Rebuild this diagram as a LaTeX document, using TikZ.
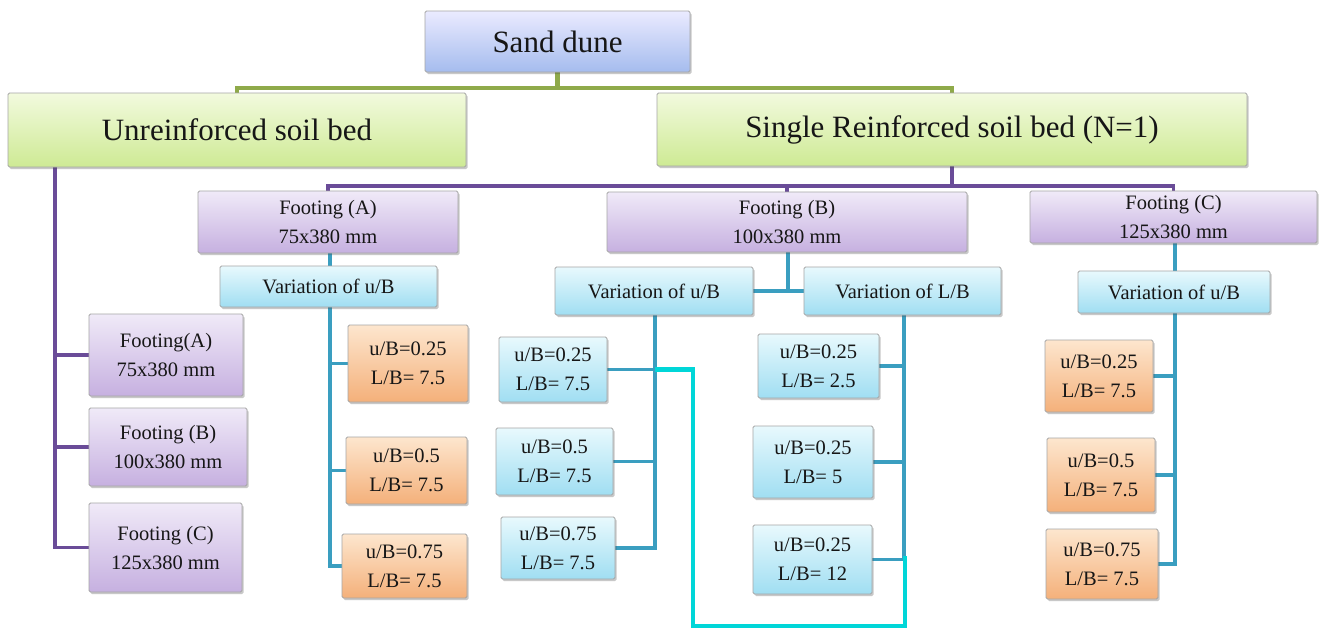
\documentclass[tikz,border=0pt]{standalone}
\usepackage{fontspec}
\setmainfont{Liberation Serif}
\usetikzlibrary{shadows}
\pgfdeclarelayer{background}
\pgfsetlayers{background,main}
\definecolor{gline}{HTML}{8FAA4A}
\definecolor{pline}{HTML}{6A4C98}
\definecolor{tline}{HTML}{3A9EC0}
\definecolor{cline}{HTML}{00D6D8}
\definecolor{txt}{HTML}{161616}
\tikzset{
  boxbase/.style={draw=black!35, line width=0.8pt, rounded corners=1.5pt, inner sep=0pt,
    align=center, text=txt,
    drop shadow={shadow xshift=1.5pt, shadow yshift=-2pt, opacity=0.3, fill=black!70}},
  bigtxt/.style={font=\fontsize{31}{36}\selectfont},
  smalltxt/.style={font=\fontsize{20.5}{29}\selectfont},
  bluebox/.style={boxbase, bigtxt, top color=blue!8!white, bottom color={rgb,255:red,165;green,188;blue,238}},
  greenbox/.style={boxbase, bigtxt, top color={rgb,255:red,242;green,250;blue,222}, bottom color={rgb,255:red,206;green,234;blue,148}},
  purplebox/.style={boxbase, smalltxt, top color={rgb,255:red,240;green,234;blue,248}, bottom color={rgb,255:red,198;green,176;blue,224}},
  cyanbox/.style={boxbase, smalltxt, top color={rgb,255:red,232;green,249;blue,253}, bottom color={rgb,255:red,160;green,222;blue,242}},
  orangebox/.style={boxbase, smalltxt, top color={rgb,255:red,253;green,230;blue,206}, bottom color={rgb,255:red,244;green,176;blue,122}},
  gconn/.style={draw=gline, line width=4.5pt},
  pconn/.style={draw=pline, line width=3.8pt},
  tconn/.style={draw=tline, line width=3.2pt},
  cconn/.style={draw=cline, line width=4.5pt},
}
\begin{document}
\begin{tikzpicture}[x=1pt,y=-1pt]
\useasboundingbox (0,0) rectangle (1319,629);

% top level
\node[bluebox, minimum width=265pt, minimum height=61pt] (dune) at (557.5,41.5) {Sand dune};
\node[greenbox, minimum width=458pt, minimum height=74pt] (unr) at (237,130) {Unreinforced soil bed};
\node[greenbox, minimum width=590pt, minimum height=73pt] (sing) at (952,129.5) {Single Reinforced soil bed (N=1)};

% footings under reinforced
\node[purplebox, minimum width=260pt, minimum height=62pt] (fA) at (328,222) {Footing (A)\\75x380 mm};
\node[purplebox, minimum width=360pt, minimum height=60pt] (fB) at (787,222) {Footing (B)\\100x380 mm};
\node[purplebox, minimum width=287pt, minimum height=52pt] (fC) at (1173.5,217) {Footing (C)\\125x380 mm};

% variation boxes
\node[cyanbox, minimum width=217pt, minimum height=41pt] (vA) at (328.5,286.5) {Variation of u/B};
\node[cyanbox, minimum width=198pt, minimum height=48pt] (vBu) at (654,291) {Variation of u/B};
\node[cyanbox, minimum width=197pt, minimum height=48pt] (vBL) at (902.5,291) {Variation of L/B};
\node[cyanbox, minimum width=192pt, minimum height=42pt] (vC) at (1174,292) {Variation of u/B};

% left column (unreinforced)
\node[purplebox, minimum width=154pt, minimum height=82pt] (LA) at (166,355) {Footing(A)\\75x380 mm};
\node[purplebox, minimum width=158pt, minimum height=78pt] (LB) at (168,447) {Footing (B)\\100x380 mm};
\node[purplebox, minimum width=153pt, minimum height=89pt] (LC) at (165.5,547.5) {Footing (C)\\125x380 mm};

% footing A, u/B
\node[orangebox, minimum width=120pt, minimum height=77pt] (oA1) at (408,363.5) {u/B=0.25\\L/B= 7.5};
\node[orangebox, minimum width=121pt, minimum height=67pt] (oA2) at (406.5,470.5) {u/B=0.5\\L/B= 7.5};
\node[orangebox, minimum width=125pt, minimum height=64pt] (oA3) at (404.5,566) {u/B=0.75\\L/B= 7.5};

% footing B, u/B
\node[cyanbox, minimum width=108pt, minimum height=65pt] (bU1) at (553,369.5) {u/B=0.25\\L/B= 7.5};
\node[cyanbox, minimum width=117pt, minimum height=67pt] (bU2) at (554.5,461.5) {u/B=0.5\\L/B= 7.5};
\node[cyanbox, minimum width=114pt, minimum height=62pt] (bU3) at (558,548) {u/B=0.75\\L/B= 7.5};

% footing B, L/B
\node[cyanbox, minimum width=121pt, minimum height=64pt] (bL1) at (818.5,366) {u/B=0.25\\L/B= 2.5};
\node[cyanbox, minimum width=120pt, minimum height=72pt] (bL2) at (813,462) {u/B=0.25\\L/B= 5};
\node[cyanbox, minimum width=119pt, minimum height=69pt] (bL3) at (812.5,559.5) {u/B=0.25\\L/B= 12};

% footing C, u/B
\node[orangebox, minimum width=108pt, minimum height=72pt] (oC1) at (1099,376) {u/B=0.25\\L/B= 7.5};
\node[orangebox, minimum width=108pt, minimum height=74pt] (oC2) at (1101,475) {u/B=0.5\\L/B= 7.5};
\node[orangebox, minimum width=112pt, minimum height=70pt] (oC3) at (1102,564) {u/B=0.75\\L/B= 7.5};

% coordinates
\coordinate (gj) at (557.5,88);
\coordinate (pj) at (952,186);
\coordinate (ul) at (55,167);
\coordinate (bj) at (788,291);
\coordinate (cA) at (330,0);
\coordinate (cBu) at (655,0);
\coordinate (cBL) at (904,0);
\coordinate (cC) at (1175,0);
\coordinate (k1) at (693,626);
\coordinate (kend) at (905,556);

\begin{pgfonlayer}{background}
\fill[white] (0,0) rectangle (1319,629);

% green connectors
\draw[gconn] (dune.south) -- (gj);
\draw[gconn] (unr.north) |- (gj) -| (sing.north);

% purple connectors
\draw[pconn] (sing.south) -- (pj);
\draw[pconn] (fA.north) |- (pj) -| (fC.north);
\draw[pconn] (fB.north) -- (fB.north |- pj);
\draw[pconn] (ul) |- (LC.west);
\draw[pconn] (LA.west) -- (LA.west -| ul);
\draw[pconn] (LB.west) -- (LB.west -| ul);

% teal connectors: footing A
\draw[tconn] (fA.south -| cA) -- (vA.north -| cA);
\draw[tconn] (vA.south -| cA) |- (oA3.west);
\draw[tconn] (oA1.west) -- (oA1.west -| cA);
\draw[tconn] (oA2.west) -- (oA2.west -| cA);

% footing B
\draw[tconn] (fB.south -| bj) -- (bj);
\draw[tconn] (vBu.east) -- (vBL.west);
\draw[tconn] (vBu.south -| cBu) |- (bU3.east);
\draw[tconn] (bU1.east) -- (bU1.east -| cBu);
\draw[tconn] (bU2.east) -- (bU2.east -| cBu);
\draw[tconn] (vBL.south -| cBL) |- (bL3.east);
\draw[tconn] (bL1.east) -- (bL1.east -| cBL);
\draw[tconn] (bL2.east) -- (bL2.east -| cBL);

% footing C
\draw[tconn] (fC.south -| cC) -- (vC.north -| cC);
\draw[tconn] (vC.south -| cC) |- (oC3.east);
\draw[tconn] (oC1.east) -- (oC1.east -| cC);
\draw[tconn] (oC2.east) -- (oC2.east -| cC);

% cyan loop
\draw[cconn] (bU1.east -| cBu) -| (k1) -| (kend);
\end{pgfonlayer}
\end{tikzpicture}
\end{document}
